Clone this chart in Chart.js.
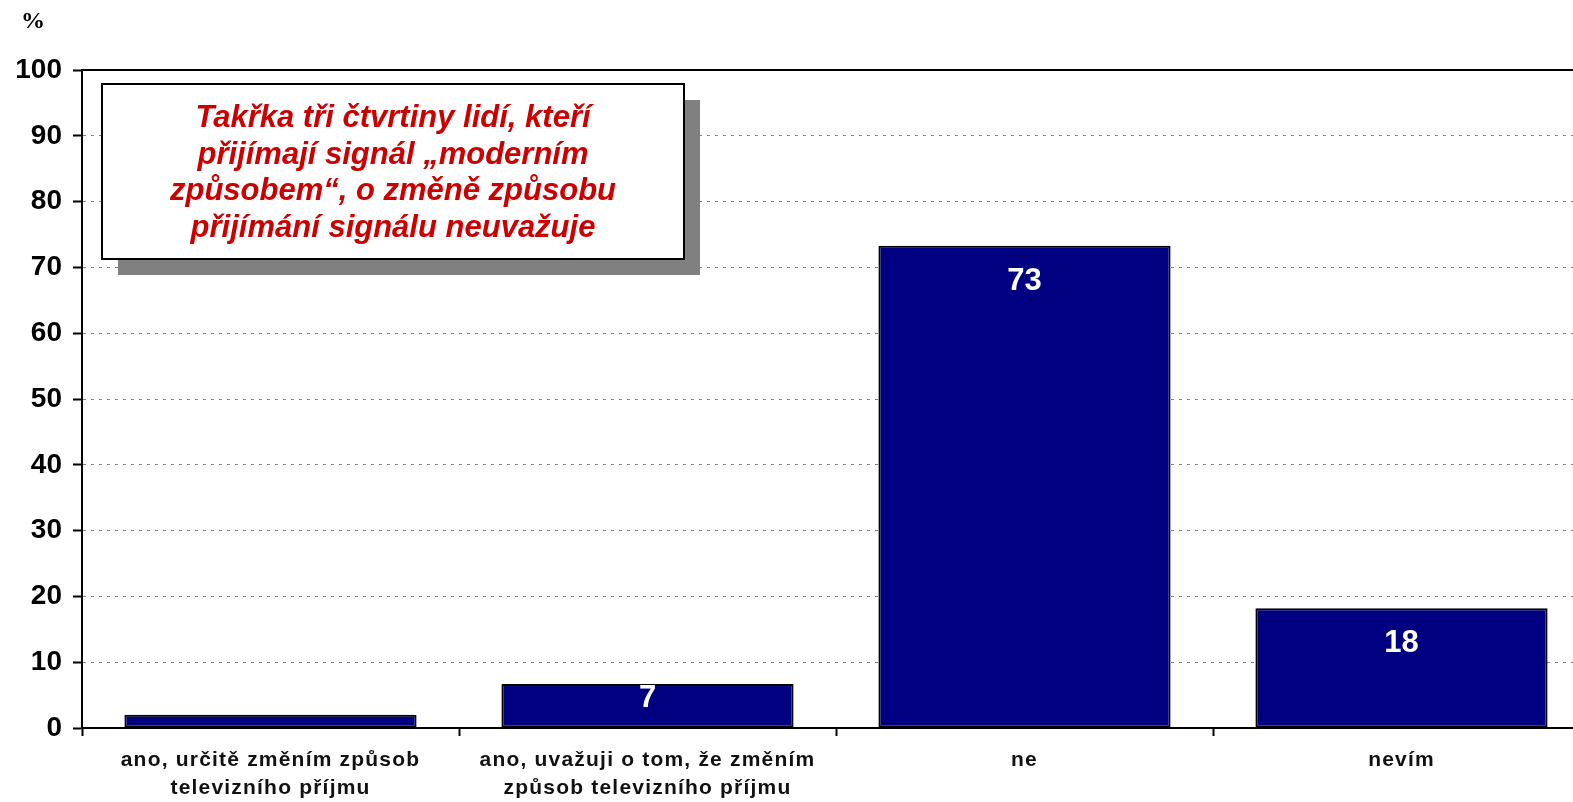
<!DOCTYPE html>
<html>
<head>
<meta charset="utf-8">
<script src="https://cdn.jsdelivr.net/npm/chart.js@4/dist/chart.umd.min.js"></script>
<style>
body{margin:0;overflow:hidden;background:#fff}
#wrap{width:1590px;height:802px}
</style>
</head>
<body>
<div id="wrap"><canvas id="myChart" width="1590" height="802"></canvas></div>
<script>
// data
var categories=[
  ["ano, určitě změním způsob","televizního příjmu"],
  ["ano, uvažuji o tom, že změním","způsob televizního příjmu"],
  "ne",
  "nevím"
];
var values=[2,6.7,73.3,18.2];
var yTicks=[0,10,20,30,40,50,60,70,80,90,100];
var unitLabel="%";
var noteLines=[
  "Takřka tři čtvrtiny lidí, kteří",
  "přijímají signál „moderním",
  "způsobem“, o změně způsobu",
  "přijímání signálu neuvažuje"
];

Chart.defaults.font.family="'Liberation Sans', Arial, sans-serif";

// value labels inside the bars + the note box + % sign + top frame line
var extras={
  id:'extras',
  afterLayout:function(chart){
    // excel spreads the category text out a bit
    var xs=chart.scales.x;
    if(xs._spaced) return;
    var orig=xs.drawLabels;
    xs.drawLabels=function(a){
      var c=this.ctx;
      c.save();
      c.letterSpacing='1.2px';
      orig.call(this,a);
      c.restore();
    };
    xs._spaced=true;
  },
  afterDatasetsDraw:function(chart){
    var ctx=chart.ctx;
    var area=chart.chartArea;
    var meta=chart.getDatasetMeta(0);
    ctx.save();
    // top frame line
    ctx.strokeStyle='#000';
    ctx.lineWidth=2;
    ctx.beginPath();
    ctx.moveTo(area.left,area.top);
    ctx.lineTo(area.right,area.top);
    ctx.stroke();

    ctx.font="bold 31px 'Liberation Sans', Arial";
    ctx.fillStyle='#fff';
    ctx.textAlign='center';
    ctx.textBaseline='alphabetic';
    for(var i=0;i<meta.data.length;i++){
      var el=meta.data[i];
      var h=el.base-el.y;
      if(h<30) continue;
      var off=h>70?44:23;
      ctx.fillText(Math.round(values[i]),el.x,el.y+off);
    }

    // note box with shadow
    var bx=area.left+20, by=area.top+14, bw=582, bh=175;
    ctx.fillStyle='#808080';
    ctx.fillRect(bx+16,by+16,bw,bh);
    ctx.fillStyle='#fff';
    ctx.fillRect(bx,by,bw,bh);
    ctx.strokeStyle='#000';
    ctx.lineWidth=2;
    ctx.strokeRect(bx,by,bw,bh);
    ctx.fillStyle='#CC0000';
    ctx.font="italic bold 31px 'Liberation Sans', Arial";
    for(var j=0;j<noteLines.length;j++){
      ctx.fillText(noteLines[j],bx+bw/2,by+43+j*36.5);
    }

    // unit
    ctx.fillStyle='#000';
    ctx.font="bold 24px 'Liberation Serif', 'Times New Roman', serif";
    ctx.textAlign='center';
    ctx.fillText(unitLabel,33,28);
    ctx.restore();
  }
};

var data={
  labels:categories,
  datasets:[{
    label:'%',
    data:values,
    backgroundColor:'#000080',
    borderColor:'#000',
    borderWidth:2,
    borderSkipped:false,
    barPercentage:0.775,
    categoryPercentage:1
  }]
};

var config={
  type:'bar',
  data:data,
  plugins:[extras],
  options:{
    responsive:false,
    animation:false,
    layout:{padding:{top:70,left:0,right:0,bottom:0}},
    plugins:{legend:{display:false},tooltip:{enabled:false}},
    scales:{
      x:{
        offset:true,
        grid:{offset:true,drawOnChartArea:false,tickLength:8,tickColor:'#000',tickWidth:2},
        border:{color:'#000',width:2},
        ticks:{color:'#111',font:{size:21,weight:'bold',lineHeight:1.35},padding:10,maxRotation:0,autoSkip:false},
        afterFit:function(s){s.height=74;}
      },
      y:{
        min:0,
        max:100,
        afterBuildTicks:function(s){s.ticks=yTicks.map(function(v){return {value:v};});},
        grid:{
          color:function(c){return (c.tick&&(c.tick.value===0||c.tick.value===100))?'rgba(0,0,0,0)':'#808080';},
          lineWidth:1,
          tickColor:'#000',
          tickWidth:2,
          tickLength:9
        },
        border:{color:'#000',width:2,dash:[3,5]},
        ticks:{color:'#000',font:{size:28,weight:'bold'},padding:11},
        afterFit:function(s){s.width=82;}
      }
    }
  }
};
var myChart=new Chart(document.getElementById('myChart'),config);
</script>
</body>
</html>
